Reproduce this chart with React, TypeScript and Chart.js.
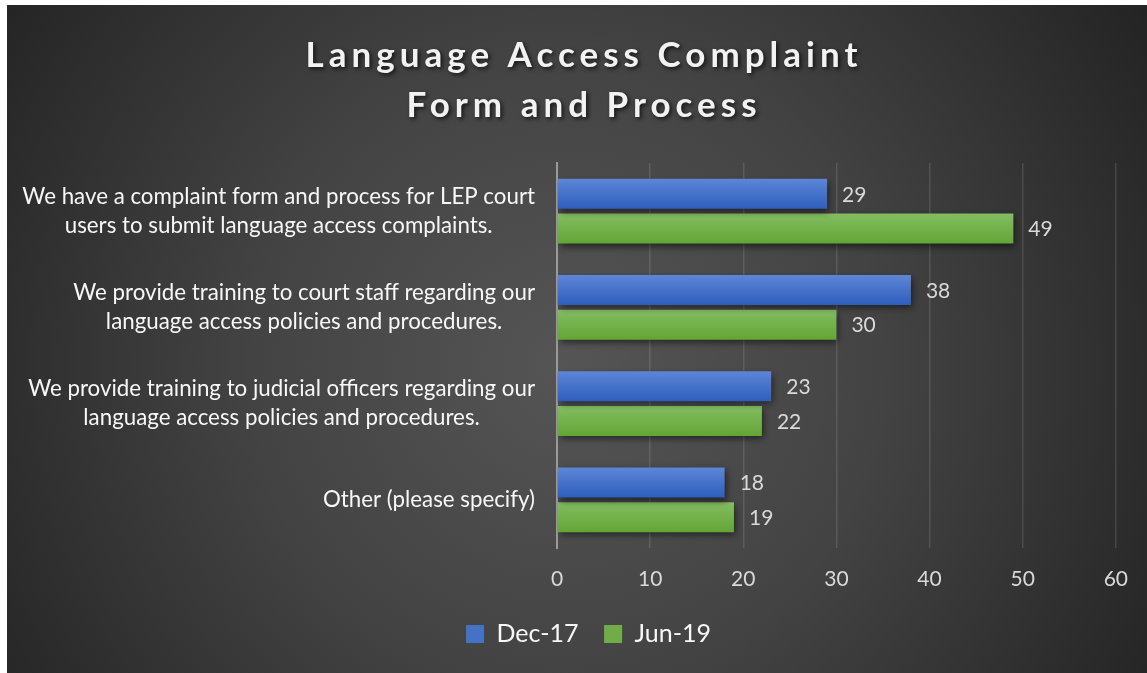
import React, { useEffect, useRef } from "react";
import { Chart, registerables } from "chart.js";

Chart.register(...registerables);

const TITLE_LINES = ["Language Access Complaint", "Form and Process"];
const CATEGORIES: string[][] = [
  ["We have a complaint form and process for LEP court", "users to submit language access complaints."],
  ["We provide training to court staff regarding our", "language access policies and procedures."],
  ["We provide training to judicial officers regarding our", "language access policies and procedures."],
  ["Other (please specify)"],
];
const SERIES_NAMES = ["Dec-17", "Jun-19"];
const DEC17 = [29, 38, 23, 18];
const JUN19 = [49, 30, 22, 19];
const X_MIN = 0;
const X_MAX = 60;
const X_STEP = 10;

const W = 1140;
const H = 668;
const FONT = "Lato, 'Open Sans', sans-serif";
const CAT_PCT = 0.72;
const BAR_PCT = 0.87;
const SOLID = ["#4472c4", "#70ad47"];
const GRAD = [
  ["#5d86d6", "#2e5ebd"],
  ["#84bd63", "#63a535"],
];

function barGradient(dsIndex: number) {
  return (c: any) => {
    const chart = c.chart;
    const y = chart.scales && chart.scales.y;
    if (c.type !== "data" || !y) return SOLID[dsIndex];
    const p0 = y.getPixelForValue(c.dataIndex);
    const catW = (y.bottom - y.top) / CATEGORIES.length;
    if (!isFinite(p0) || !isFinite(catW) || catW <= 0) return SOLID[dsIndex];
    const slot = (catW * CAT_PCT) / 2;
    const center = p0 + (dsIndex === 0 ? -slot / 2 : slot / 2);
    const half = (slot * BAR_PCT) / 2;
    const g = chart.ctx.createLinearGradient(0, center - half, 0, center + half);
    g.addColorStop(0, GRAD[dsIndex][0]);
    g.addColorStop(1, GRAD[dsIndex][1]);
    return g;
  };
}

const backgroundPlugin = {
  id: "bgPanel",
  beforeDraw(chart: any) {
    const ctx = chart.ctx;
    ctx.save();
    const g = ctx.createRadialGradient(560, 360, 0, 560, 360, 700);
    g.addColorStop(0, "#555555");
    g.addColorStop(0.45, "#434343");
    g.addColorStop(1, "#222222");
    ctx.fillStyle = g;
    ctx.fillRect(0, 0, chart.width, chart.height);
    ctx.restore();
  },
};

const legendShiftPlugin = {
  id: "legendShift",
  afterLayout(chart: any) {
    if (chart.legend) {
      chart.legend.left += 20;
      chart.legend.right += 20;
    }
  },
};

const shadowPlugin = {
  id: "barShadow",
  beforeDatasetsDraw(chart: any) {
    const ctx = chart.ctx;
    ctx.save();
    ctx.shadowColor = "rgba(0,0,0,0.55)";
    ctx.shadowBlur = 7;
    ctx.shadowOffsetX = 2;
    ctx.shadowOffsetY = 3;
  },
  afterDatasetsDraw(chart: any) {
    chart.ctx.restore();
  },
};

const textPlugin = {
  id: "texts",
  afterDraw(chart: any) {
    const ctx = chart.ctx;
    ctx.save();
    ctx.font = `21px ${FONT}`;
    ctx.fillStyle = "#d9d9d9";
    ctx.textAlign = "left";
    ctx.textBaseline = "middle";
    chart.data.datasets.forEach((ds: any, di: number) => {
      const meta = chart.getDatasetMeta(di);
      meta.data.forEach((el: any, i: number) => {
        ctx.fillText(String(ds.data[i]), el.x + 15, el.y + 1);
      });
    });
    ctx.restore();

    const y = chart.scales.y;
    ctx.save();
    ctx.font = `22.3px ${FONT}`;
    ctx.fillStyle = "#f7f7f7";
    ctx.textAlign = "center";
    ctx.textBaseline = "middle";
    const right = chart.chartArea.left - 22;
    const lh = 29;
    CATEGORIES.forEach((lines, i) => {
      const cy = y.getPixelForValue(i);
      const bw = Math.max(...lines.map((l) => ctx.measureText(l).width));
      const cx = right - bw / 2;
      lines.forEach((l, k) => {
        ctx.fillText(l, cx, cy + (k - (lines.length - 1) / 2) * lh);
      });
    });
    ctx.restore();

    ctx.save();
    ctx.font = `bold 35px ${FONT}`;
    (ctx as any).letterSpacing = "5px";
    ctx.fillStyle = "#f2f2f2";
    ctx.textAlign = "center";
    ctx.textBaseline = "middle";
    ctx.shadowColor = "rgba(0,0,0,0.7)";
    ctx.shadowBlur = 4;
    ctx.shadowOffsetX = 2;
    ctx.shadowOffsetY = 2;
    TITLE_LINES.forEach((t, k) => {
      ctx.fillText(t, chart.width / 2 + 7, 51 + k * 50);
    });
    ctx.restore();
  },
};

export default function App() {
  const ref = useRef<HTMLCanvasElement | null>(null);
  useEffect(() => {
    if (!ref.current) return;
    const chart = new Chart(ref.current, {
      type: "bar",
      data: {
        labels: CATEGORIES.map((c) => c.join(" ")),
        datasets: [
          {
            label: SERIES_NAMES[0],
            data: DEC17,
            backgroundColor: barGradient(0),
            borderWidth: 0,
            categoryPercentage: CAT_PCT,
            barPercentage: BAR_PCT,
          },
          {
            label: SERIES_NAMES[1],
            data: JUN19,
            backgroundColor: barGradient(1),
            borderWidth: 0,
            categoryPercentage: CAT_PCT,
            barPercentage: BAR_PCT,
          },
        ],
      },
      options: {
        indexAxis: "y",
        responsive: false,
        animation: false,
        layout: { padding: { top: 158, left: 0, right: 17, bottom: 16.5 } },
        scales: {
          x: {
            min: X_MIN,
            max: X_MAX,
            ticks: {
              stepSize: X_STEP,
              color: "#d9d9d9",
              font: { family: FONT, size: 21 },
              padding: 19,
            },
            grid: {
              color: "rgba(255,255,255,0.12)",
              lineWidth: 1.5,
              drawTicks: false,
            },
            border: { display: false },
            afterFit: (s: any) => {
              s.height = 48;
            },
          },
          y: {
            ticks: { display: false },
            grid: { display: false, drawTicks: false },
            border: { display: true, color: "#9a9a9a", width: 2 },
            afterFit: (s: any) => {
              s.width = 550;
            },
          },
        },
        plugins: {
          title: { display: false },
          tooltip: { enabled: false },
          legend: {
            position: "bottom",
            labels: {
              color: "#f7f7f7",
              font: { family: FONT, size: 25 },
              boxWidth: 18,
              boxHeight: 18,
              padding: 25.5,
              generateLabels: (ch: any) =>
                Chart.defaults.plugins.legend.labels.generateLabels(ch).map((l: any) => ({
                  ...l,
                  fillStyle: SOLID[l.datasetIndex],
                  strokeStyle: SOLID[l.datasetIndex],
                  lineWidth: 0,
                })),
            },
          },
        },
      },
      plugins: [backgroundPlugin, legendShiftPlugin, shadowPlugin, textPlugin],
    });
    chart.update();
    return () => chart.destroy();
  }, []);
  return (
    <div style={{ position: "absolute", left: 7, top: 5, width: W, height: H }}>
      <canvas ref={ref} width={W} height={H} />
    </div>
  );
}
